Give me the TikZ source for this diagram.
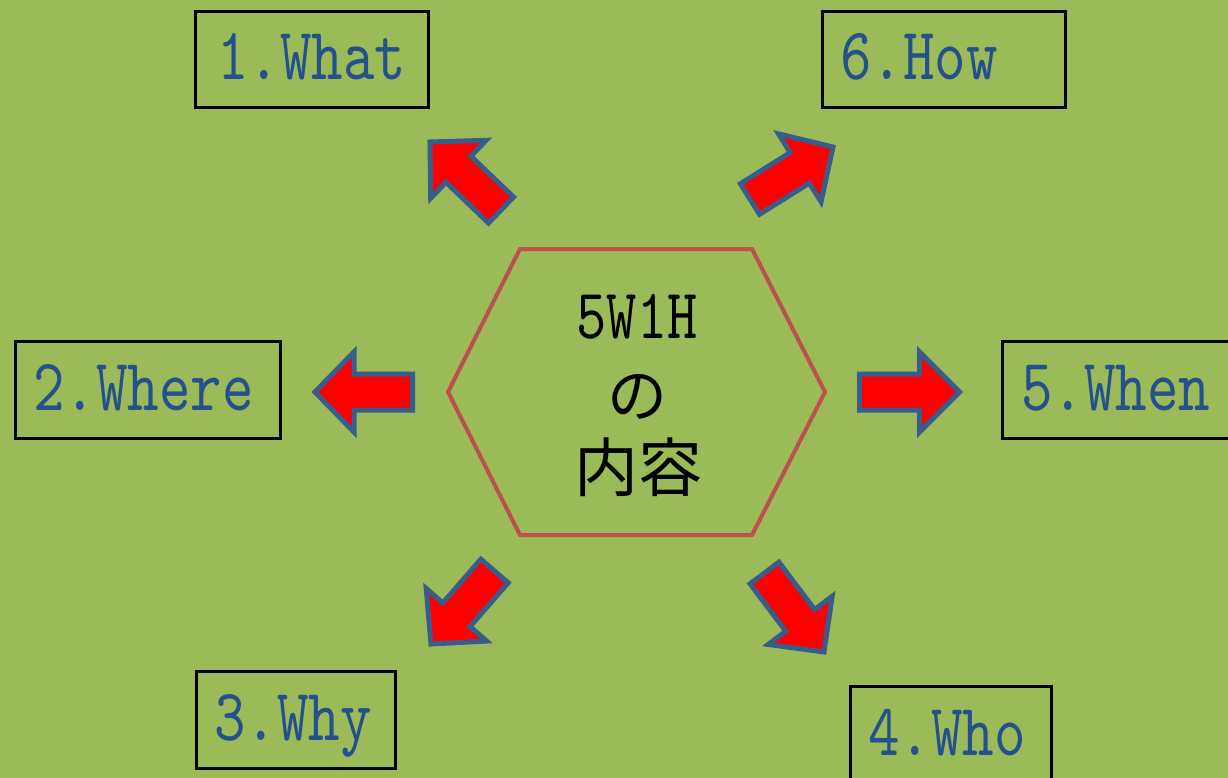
\documentclass[tikz,border=0pt]{standalone}
\usepackage{fontspec}
\newfontfamily\labelfont{lmmono10-regular.otf}[FakeStretch=0.81]
\newfontfamily\cjkfont{Noto Sans CJK JP}
\usetikzlibrary{calc}

\definecolor{fieldgreen}{HTML}{9BBB59}
\definecolor{labelblue}{HTML}{24508C}
\definecolor{arrowedge}{HTML}{385D8A}
\definecolor{hexred}{HTML}{C0504D}

% block arrow from tail #2 to tip #3, named #1
\newcommand\blockarrow[3]{%
  \coordinate (#1-t) at #2;
  \coordinate (#1-p) at #3;
  \coordinate (#1-h) at ($(#1-t)!0.6!(#1-p)$);
  \filldraw[fatarrow]
    ($(#1-t)!18pt!90:(#1-p)$) -- ($(#1-h)!18pt!90:(#1-p)$) --
    ($(#1-h)!40pt!90:(#1-p)$) -- (#1-p) --
    ($(#1-h)!40pt!-90:(#1-p)$) -- ($(#1-h)!18pt!-90:(#1-p)$) --
    ($(#1-t)!18pt!-90:(#1-p)$) -- cycle;
}

\begin{document}
\begin{tikzpicture}[x=1pt,y=-1pt,
  itembox/.style={draw=black,line width=3.3pt,fill=none,inner sep=0pt,anchor=north west},
  itemtext/.style={text=labelblue,font=\labelfont\fontsize{74}{74}\selectfont,inner sep=0pt,anchor=base west},
  coretext/.style={text=black,inner sep=0pt},
  fatarrow/.style={fill=red,draw=arrowedge,line width=5pt,line join=miter},
  hexline/.style={draw=hexred,line width=4pt,line join=miter}]

% page
\clip (0,0) rectangle (1228,778);
\fill[fieldgreen] (0,0) rectangle (1228,778);

% central hexagon
\coordinate (hw)  at (448,392);
\coordinate (hnw) at (520,249);
\coordinate (hne) at (752,249);
\coordinate (he)  at (825,392);
\coordinate (hse) at (752,535);
\coordinate (hsw) at (520,535);
\draw[hexline] (hw) -- (hnw) -- (hne) -- (he) -- (hse) -- (hsw) -- cycle;

\node[coretext,anchor=base,font=\labelfont\fontsize{71}{71}\selectfont] (core1) at (637,338) {5W1H};
\node[coretext,font=\cjkfont\fontsize{60}{60}\selectfont] (core2) at (637,397) {の};
\node[coretext,font=\cjkfont\fontsize{64}{64}\selectfont] (core3) at (638,467) {内容};

% item boxes
\node[itembox,minimum width=232.5pt,minimum height=96pt] (what) at (194,10) {};
\node[itemtext] (whatt) at (217,80) {1.What};

\node[itembox,minimum width=242.5pt,minimum height=96pt] (how) at (821,10) {};
\node[itemtext] (howt) at (840,80) {6.How};

\node[itembox,minimum width=265pt,minimum height=97pt] (where) at (13.5,339.5) {};
\node[itemtext] (wheret) at (33,410) {2.Where};

\node[itembox,minimum width=260pt,minimum height=96.5pt] (when) at (1001,340) {};
\node[itemtext] (whent) at (1021,410) {5.When};

\node[itembox,minimum width=199pt,minimum height=97pt] (why) at (194.5,669.5) {};
\node[itemtext] (whyt) at (214,740) {3.Why};

\node[itembox,minimum width=201.5pt,minimum height=110pt] (who) at (848.5,685) {};
\node[itemtext] (whot) at (868,755) {4.Who};

% arrows pointing out of the hexagon
\blockarrow{a1}{(501,210)}{(430,142)}
\blockarrow{a2}{(412.5,392)}{(315,392)}
\blockarrow{a3}{(494.5,571)}{(431,644)}
\blockarrow{a4}{(764.5,573)}{(824,652)}
\blockarrow{a5}{(859.5,392)}{(959.5,392)}
\blockarrow{a6}{(750,199)}{(833,147)}

\end{tikzpicture}
\end{document}
